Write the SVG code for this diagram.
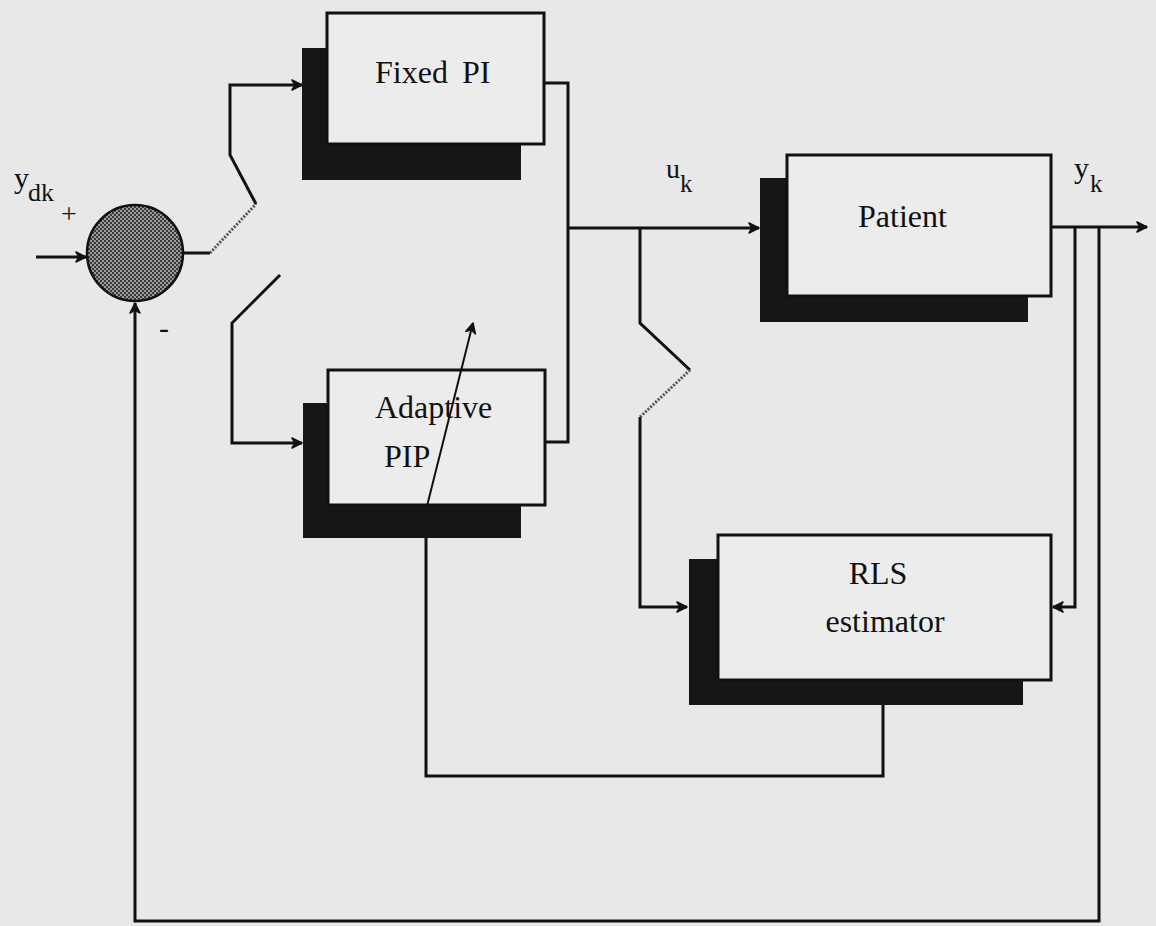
<svg xmlns="http://www.w3.org/2000/svg" width="1156" height="926" viewBox="0 0 1156 926">
<defs>
<pattern id="chk" width="4" height="4" patternUnits="userSpaceOnUse">
<rect width="4" height="4" fill="#9a9a9a"/>
<rect width="2" height="2" fill="#3a3a3a"/>
<rect x="2" y="2" width="2" height="2" fill="#3a3a3a"/>
</pattern>
<marker id="arr" viewBox="0 0 12 12" refX="11" refY="6" markerWidth="12" markerHeight="12" markerUnits="userSpaceOnUse" orient="auto">
<path d="M1,1 L11,6 L1,11 L4,6 z" fill="#111" stroke="#111" stroke-width="1.5" stroke-linejoin="round"/>
</marker>
</defs>
<style>
.bg{fill:#e8e8e8}
.shadow{fill:#161616}
.box{fill:#ececec;stroke:#111;stroke-width:3}
.ln{fill:none;stroke:#111;stroke-width:3;stroke-linejoin:miter}
.dot{fill:none;stroke:#555;stroke-width:3;stroke-dasharray:2 1.5}
.thin{fill:none;stroke:#111;stroke-width:2}
.t{font-family:"Liberation Serif","Times New Roman",serif;font-size:32px;fill:#111}
.lab{font-family:"Liberation Serif","Times New Roman",serif;fill:#111}
</style>
<rect class="bg" x="0" y="0" width="1156" height="926"/>

<g id="sum">
<circle cx="135" cy="253" r="48" fill="url(#chk)" stroke="#111" stroke-width="2.5"/>
</g>

<g id="fixed-pi">
<rect class="shadow" x="302" y="48" width="219" height="132"/>
<rect class="box" x="327" y="13" width="217" height="131"/>
<text class="t" x="375" y="83" word-spacing="6">Fixed PI</text>
</g>

<g id="adaptive-pip">
<rect class="shadow" x="303" y="403" width="218" height="135"/>
<rect class="box" x="328" y="370" width="217" height="135"/>
<text class="t" x="375" y="418">Adaptive</text>
<text class="t" x="384" y="467">PIP</text>
</g>

<g id="patient">
<rect class="shadow" x="760" y="178" width="268" height="144"/>
<rect class="box" x="787" y="155" width="264" height="141"/>
<text class="t" x="858" y="227">Patient</text>
</g>

<g id="rls">
<rect class="shadow" x="689" y="559" width="334" height="146"/>
<rect class="box" x="718" y="535" width="333" height="145"/>
<text class="t" x="878" y="584" text-anchor="middle">RLS</text>
<text class="t" x="885" y="632" text-anchor="middle">estimator</text>
</g>

<g id="labels">
<text class="lab" x="14" y="188" font-size="30">y</text>
<text class="lab" x="28" y="201" font-size="26">dk</text>
<text class="lab" x="61" y="223" font-size="28">+</text>
<text class="lab" x="159" y="338" font-size="30">-</text>
<text class="lab" x="666" y="178" font-size="28">u</text>
<text class="lab" x="680" y="192" font-size="25">k</text>
<text class="lab" x="1074" y="178" font-size="30">y</text>
<text class="lab" x="1090" y="192" font-size="25">k</text>
</g>

<g id="connectors">
<path class="ln" d="M36,257 L86,257" marker-end="url(#arr)"/>
<path class="ln" d="M183,253 L210,253"/>
<path class="dot" d="M210,253 L256,204"/>
<path class="ln" d="M256,204 L230,155 L230,85 L302,85" marker-end="url(#arr)"/>
<path class="ln" d="M280,275 L232,323 L232,443 L302,443" marker-end="url(#arr)"/>
<path class="ln" d="M544,83 L568,83 L568,442 L545,442"/>
<path class="ln" d="M568,228 L759,228" marker-end="url(#arr)"/>
<path class="ln" d="M640,228 L640,323 L690,370"/>
<path class="dot" d="M690,370 L640,417"/>
<path class="ln" d="M640,417 L640,607 L687,607" marker-end="url(#arr)"/>
<path class="ln" d="M1051,227 L1147,227" marker-end="url(#arr)"/>
<path class="ln" d="M1075,227 L1075,607 L1053,607" marker-end="url(#arr)"/>
<path class="ln" d="M1099,227 L1099,921 L135,921 L135,303" marker-end="url(#arr)"/>
<path class="ln" d="M883,705 L883,776 L426,776 L426,538"/>
<path class="thin" d="M427,506 L473,323" marker-end="url(#arr)"/>
</g>
</svg>
